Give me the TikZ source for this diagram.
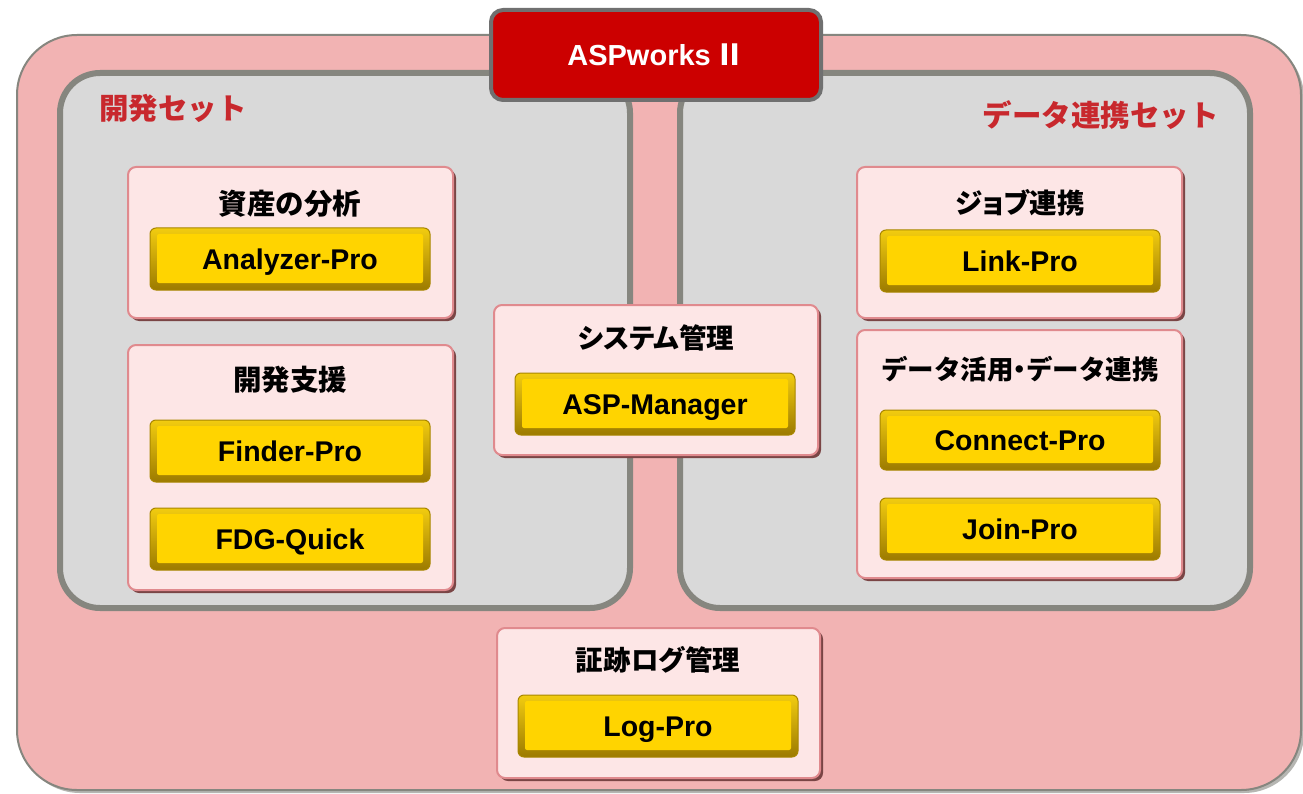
\documentclass[tikz,border=0pt]{standalone}
\usepackage{fontspec}
\setmainfont{Liberation Sans}
\newfontfamily\jp{Noto Sans CJK JP}
\newfontfamily\jpp{Noto Sans CJK JP}[RawFeature=+palt]
\definecolor{outerpink}{HTML}{F2B3B3}
\definecolor{framegray}{HTML}{86867F}
\definecolor{panelgray}{HTML}{D9D9D9}
\definecolor{boxpink}{HTML}{FDE6E6}
\definecolor{boxedge}{HTML}{E08A8E}
\definecolor{boxshadow}{HTML}{7A4545}
\definecolor{ydark}{HTML}{A88600}
\definecolor{ytop}{HTML}{F2CC10}
\definecolor{ybot}{HTML}{9C7A00}
\definecolor{ymid}{HTML}{FFD400}
\definecolor{aspred}{HTML}{CC0000}
\definecolor{aspedge}{HTML}{707070}
\definecolor{titlered}{HTML}{C8282D}
\tikzset{
  outerframe/.style={fill=outerpink, draw=framegray, line width=2pt, rounded corners=60pt,
    preaction={fill=framegray!60, transform canvas={shift={(3pt,-3pt)}}}},
  panel/.style={fill=panelgray, draw=framegray, line width=6pt, rounded corners=40pt},
  pinkbox/.style={fill=boxpink, draw=boxedge, line width=2pt, rounded corners=8pt,
    preaction={fill=boxshadow, transform canvas={shift={(3pt,-3pt)}}}},
  ybtn/.style={rounded corners=6pt, draw=ydark, line width=1pt, top color=ytop, bottom color=ybot,
    minimum width=280pt, minimum height=62pt, inner sep=0pt,
    text height=20.5pt, text depth=0pt,
    font=\bfseries\fontsize{28.5}{30}\selectfont, text=black,
    path picture={\fill[ymid, rounded corners=2pt]
      ([shift={(7pt,-6pt)}]path picture bounding box.north west) rectangle
      ([shift={(-7pt,7pt)}]path picture bounding box.south east);}},
  ttl/.style={font=\jp\bfseries\fontsize{28.5}{31}\selectfont, text=black, inner sep=0pt},
  pttl/.style={font=\jpp\bfseries\fontsize{27.5}{31}\selectfont, text=black, inner sep=0pt},
  settitle/.style={font=\jp\bfseries\fontsize{29.5}{32}\selectfont, text=titlered, inner sep=0pt},
  aspbox/.style={fill=aspred, draw=aspedge, line width=4pt, rounded corners=12pt,
    minimum width=330pt, minimum height=90pt, text=white,
    text height=21pt, text depth=0pt,
    font=\bfseries\fontsize{29}{32}\selectfont}
}
\begin{document}
\begin{tikzpicture}[x=1pt,y=-1pt]
\useasboundingbox (0,0) rectangle (1303,794);
\fill[white] (0,0) rectangle (1303,794);
% outer frame and panels
\path[outerframe] (17,35) rectangle (1301,790);
\path[panel] (60,73) rectangle (630,608);
\path[panel] (680,73) rectangle (1250,608);
% top product box
\node[aspbox] (asp) at (656,55) {ASPworks\,{\jp Ⅱ}};
% set titles
\node[settitle, anchor=west] (devset) at (99,108) {開発セット};
\node[settitle, anchor=east] (dataset) at (1219,115) {データ連携セット};
% left panel boxes
\node[pinkbox, minimum width=325pt, minimum height=151pt] (analbox) at (290.5,242.5) {};
\node[ttl] (analttl) at (290,204) {資産の分析};
\node[ybtn] (analyzer) at (290,259) {Analyzer-Pro};
\node[pinkbox, minimum width=325pt, minimum height=245pt] (devbox) at (290.5,467.5) {};
\node[ttl] (devttl) at (290,380) {開発支援};
\node[ybtn] (finder) at (290,451) {Finder-Pro};
\node[ybtn] (fdg) at (290,539) {FDG-Quick};
% center box
\node[pinkbox, minimum width=324pt, minimum height=150pt] (sysbox) at (656,380) {};
\node[pttl] (systtl) at (656,338) {システム管理};
\node[ybtn] (aspmgr) at (655,404) {ASP-Manager};
% right panel boxes
\node[pinkbox, minimum width=325pt, minimum height=151pt] (jobbox) at (1019.5,242.5) {};
\node[pttl] (jobttl) at (1020,203) {ジョブ連携};
\node[ybtn] (link) at (1020,261) {Link-Pro};
\node[pinkbox, minimum width=325pt, minimum height=248pt] (databox) at (1019.5,454) {};
\node[ttl, font=\jp\bfseries\fontsize{26.5}{30}\selectfont] (datattl) at (1020,369) {データ活用\hspace{-7pt}・\hspace{-7pt}データ連携};
\node[ybtn, minimum height=60pt] (connect) at (1020,440) {Connect-Pro};
\node[ybtn] (join) at (1020,529) {Join-Pro};
% bottom box
\node[pinkbox, minimum width=323pt, minimum height=150pt] (logbox) at (658.5,703) {};
\node[pttl] (logttl) at (658,660) {証跡ログ管理};
\node[ybtn] (logpro) at (658,726) {Log-Pro};
\end{tikzpicture}
\end{document}
